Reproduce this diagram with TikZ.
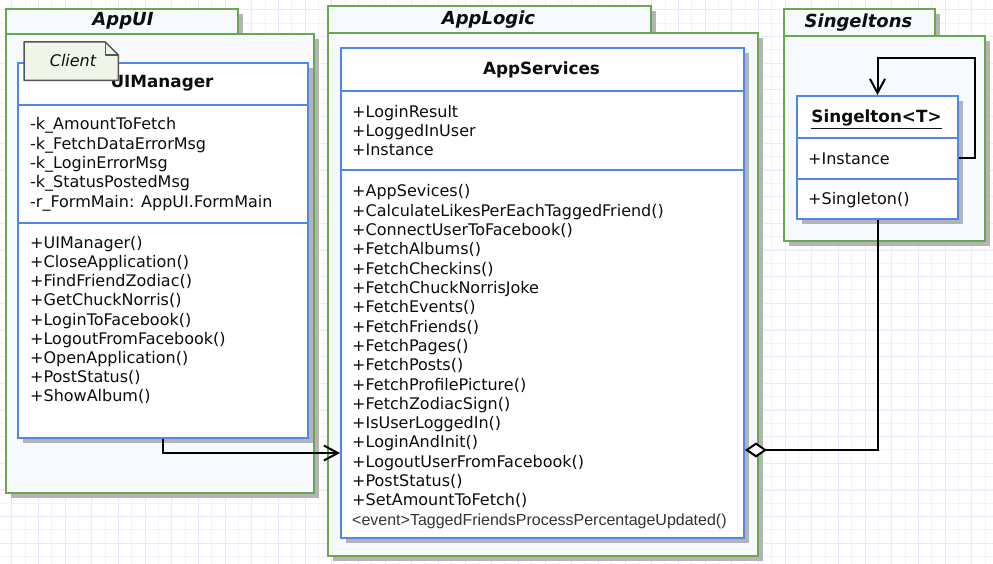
\documentclass[tikz,border=0pt]{standalone}
\usepackage{fontspec}
\setmainfont{DejaVu Sans}
\newfontfamily\arialfont{Liberation Sans}
\usetikzlibrary{arrows.meta,shadows}
\definecolor{pkggreen}{HTML}{6AA84F}
\definecolor{clsblue}{HTML}{4F88E6}
\definecolor{pkgfill}{HTML}{F6FAFE}
\definecolor{gridminor}{HTML}{F2F2FF}
\definecolor{gridmajor}{HTML}{E8E8FF}
\definecolor{notefill}{HTML}{EFF5E9}
\definecolor{notedraw}{HTML}{555555}
\definecolor{shadowgray}{HTML}{B4B4B4}
\definecolor{txtcol}{HTML}{0D0D0D}
\begin{document}
\begin{tikzpicture}[x=1pt,y=-1pt,
  shd/.style={general shadow={fill=shadowgray, shadow xshift=5pt, shadow yshift=-5pt}},
  pkg/.style={draw=pkggreen, fill=pkgfill, line width=2pt, shd, inner sep=0, anchor=north west},
  cls/.style={draw=clsblue, fill=white, line width=2pt, shd, inner sep=0, anchor=north west},
  comp/.style={draw=clsblue, line width=2pt, inner sep=0, anchor=north west},
  txt/.style={anchor=base west, inner sep=0, text=txtcol, font=\fontsize{16}{18}\selectfont},
  hdr/.style={anchor=base, inner sep=0, text=txtcol, font=\bfseries\fontsize{16.8}{18}\selectfont},
  pkglabel/.style={anchor=base, inner sep=0, text=txtcol, font=\bfseries\itshape\fontsize{18}{18}\selectfont},
  evt/.style={anchor=base west, inner sep=0, text=black!80, font=\arialfont\fontsize{16}{18}\selectfont},
  conn/.style={draw=black, line width=2pt},
  openhead/.style={-{Straight Barb[length=14pt,width=15pt]}},
]
\useasboundingbox (0,0) rectangle (993,564);
\fill[white] (0,0) rectangle (993,564);
% grid
\foreach \i in {0,...,74} {
  \draw[gridminor, line width=1pt] ({11.7+13.333*\i-13.333},0) -- ++(0,564);
}
\foreach \i in {0,...,43} {
  \draw[gridminor, line width=1pt] (0,{10+13.333*\i-13.333}) -- ++(993,0);
}
\foreach \i in {0,...,37} {
  \draw[gridmajor, line width=1pt] ({11.7+26.667*\i},0) -- ++(0,564);
}
\foreach \i in {0,...,21} {
  \draw[gridmajor, line width=1pt] (0,{10+26.667*\i}) -- ++(993,0);
}

% ---------- packages ----------
\node[pkg, minimum width=232pt, minimum height=25pt] (uitab) at (5,8) {};
\node[pkg, minimum width=308pt, minimum height=459pt] (uipkg) at (5,33) {};
\node[pkglabel] (uilabel) at (123,26) {AppUI};

\node[pkg, minimum width=323pt, minimum height=27pt] (logtab) at (327,5) {};
\node[pkg, minimum width=430pt, minimum height=523pt] (logpkg) at (327,32) {};
\node[pkglabel] (loglabel) at (488.5,25) {AppLogic};

\node[pkg, minimum width=151pt, minimum height=27pt] (sgtab) at (783,8) {};
\node[pkg, minimum width=201pt, minimum height=205pt] (sgpkg) at (783,35) {};
\node[pkglabel] (sglabel) at (858.5,28) {Singeltons};

% ---------- UIManager ----------
\node[cls, minimum width=290pt, minimum height=375pt] (uimgr) at (17,62) {};
\node[comp, minimum width=290pt, minimum height=118pt] (uiattr) at (17,104) {};
\node[hdr] (uihdr) at (162,88) {UIManager};
\foreach \t [count=\k from 0] in {-k\_AmountToFetch,-k\_FetchDataErrorMsg,-k\_LoginErrorMsg,-k\_StatusPostedMsg,-r\_FormMain: AppUI.FormMain} {
  \node[txt] (uia\k) at (30,{130+19.3*\k}) {\t};
}
\foreach \t [count=\k from 0] in {+UIManager(),+CloseApplication(),+FindFriendZodiac(),+GetChuckNorris(),+LoginToFacebook(),+LogoutFromFacebook(),+OpenApplication(),+PostStatus(),+ShowAlbum()} {
  \node[txt] (uim\k) at (30,{248.3+19.2*\k}) {\t};
}
% note
\node[anchor=north west, inner sep=0, minimum width=94pt, minimum height=38pt] (client) at (24,42) {};
\draw[draw=notedraw, fill=notefill, line width=1.5pt, line join=round]
  (client.north west) -- ([xshift=-13pt]client.north east) -- ([yshift=-13pt]client.north east)
  -- (client.south east) -- (client.south west) -- cycle;
\draw[draw=notedraw, line width=1.5pt, line join=round]
  ([xshift=-13pt]client.north east) -- ([xshift=-13pt,yshift=-13pt]client.north east) -- ([yshift=-13pt]client.north east);
\node[anchor=base, inner sep=0, text=txtcol, font=\itshape\fontsize{16}{18}\selectfont] (clientlbl) at (73,66.7) {Client};

% ---------- AppServices ----------
\node[cls, minimum width=403pt, minimum height=490pt] (appsvc) at (340,47) {};
\node[comp, minimum width=403pt, minimum height=79pt] (svcattr) at (340,90) {};
\node[hdr] (svchdr) at (541.5,75) {AppServices};
\foreach \t [count=\k from 0] in {+LoginResult,+LoggedInUser,+Instance} {
  \node[txt] (sva\k) at (352,{117.3+19.3*\k}) {\t};
}
\foreach \t [count=\k from 0] in {+AppSevices(),+CalculateLikesPerEachTaggedFriend(),+ConnectUserToFacebook(),+FetchAlbums(),+FetchCheckins(),+FetchChuckNorrisJoke,+FetchEvents(),+FetchFriends(),+FetchPages(),+FetchPosts(),+FetchProfilePicture(),+FetchZodiacSign(),+IsUserLoggedIn(),+LoginAndInit(),+LogoutUserFromFacebook(),+PostStatus(),+SetAmountToFetch()} {
  \node[txt] (svm\k) at (352,{196.7+19.33*\k}) {\t};
}
\node[evt] (svevt) at (352,525) {<event>TaggedFriendsProcessPercentageUpdated()};

% ---------- Singleton ----------
\node[cls, minimum width=161pt, minimum height=123pt] (single) at (796,95) {};
\node[comp, minimum width=161pt, minimum height=41pt] (sgattr) at (796,137) {};
\node[hdr] (sghdr) at (876.5,123) {\underline{Singelton<T>}};
\node[txt] (sga0) at (808,165) {+Instance};
\node[txt] (sgm0) at (808,205) {+Singleton()};

% ---------- connectors ----------
\coordinate (uiarrowy) at (0,453);
\coordinate (loopy) at (0,58);
\coordinate (aggy) at (0,450);
\draw[conn, openhead] (uimgr.south) |- (appsvc.west |- uiarrowy);
\draw[conn, openhead] (sgattr.east) -- ++(16,0) |- (single.north |- loopy) -- (single.north);
\draw[conn, {Diamond[fill=white,length=22pt,width=15pt]}-] (appsvc.east |- aggy) -| (single.south);
\end{tikzpicture}
\end{document}
